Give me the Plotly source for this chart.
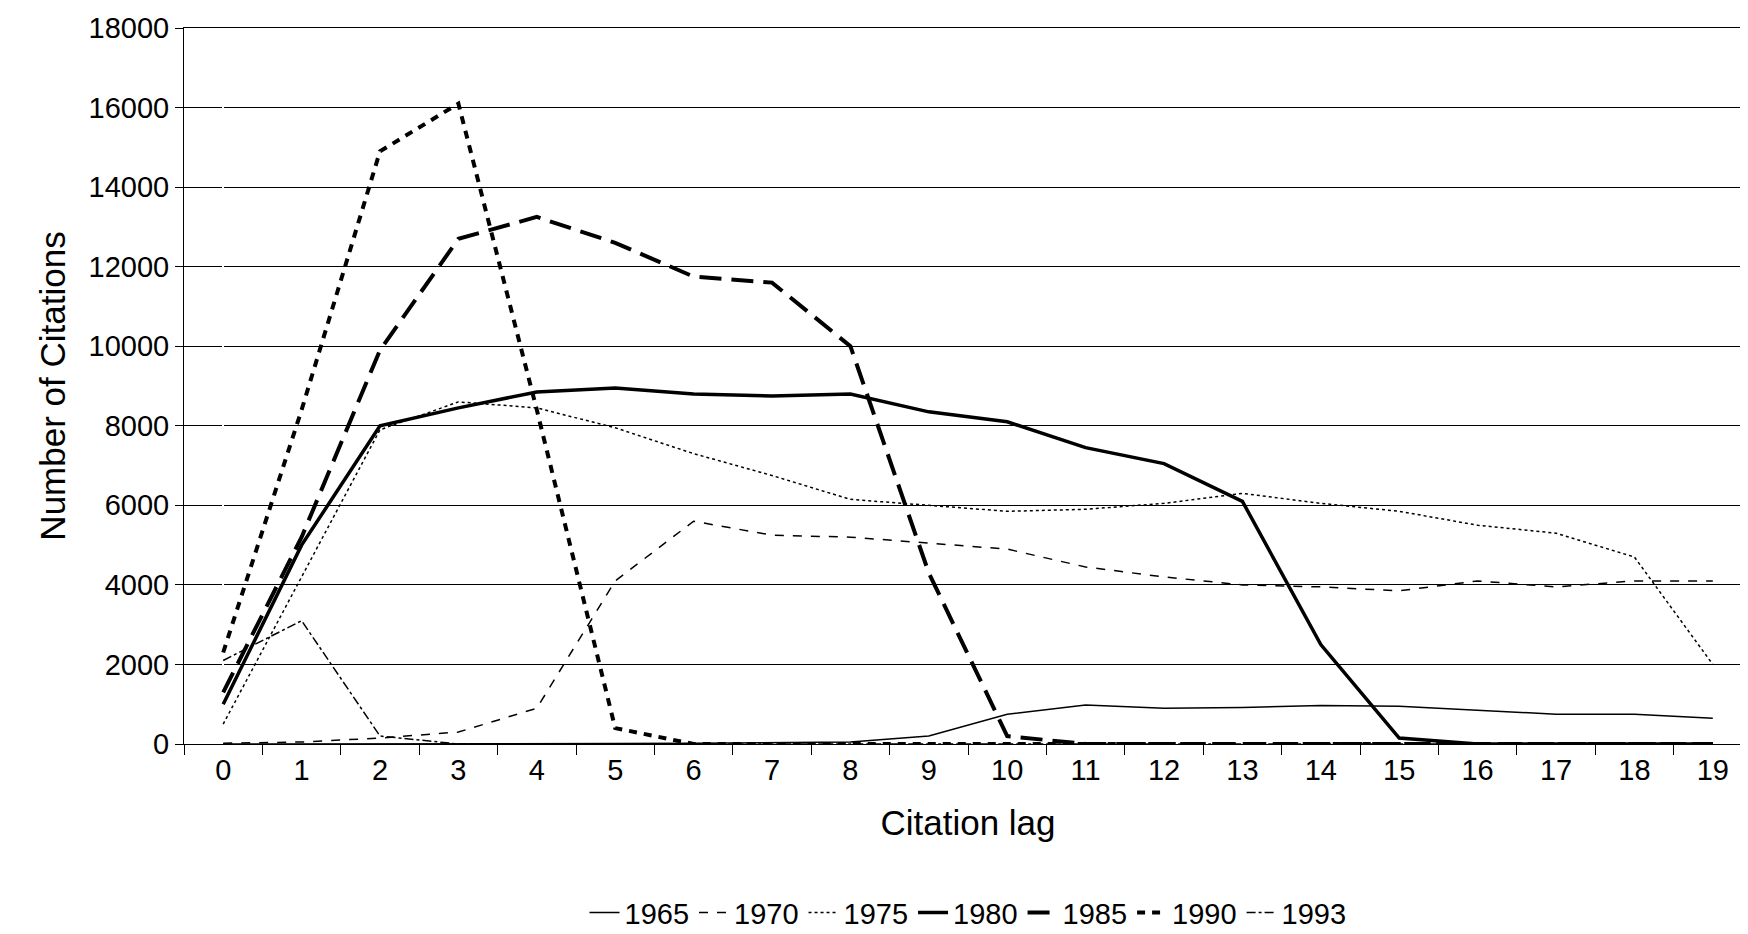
import plotly.graph_objects as go

lags = list(range(20))

c1965 = [0, 0, 0, 0, 0, 10, 20, 30, 50, 200, 750, 980, 900, 920, 970, 950, 850, 750, 750, 650]
c1970 = [20, 50, 150, 300, 900, 4100, 5600, 5250, 5200, 5050, 4900, 4450, 4200, 4000, 3950, 3850, 4100, 3950, 4100, 4100]
c1975 = [500, 4200, 7900, 8600, 8450, 7950, 7300, 6750, 6150, 6000, 5850, 5900, 6050, 6300, 6050, 5850, 5500, 5300, 4700, 2000]
c1980 = [1000, 5000, 8000, 8450, 8850, 8950, 8800, 8750, 8800, 8350, 8100, 7450, 7050, 6100, 2500, 150, 0, 0, 0, 0]
c1985 = [1300, 5200, 9900, 12700, 13250, 12600, 11750, 11600, 10000, 4300, 200, 0, 0, 0, 0, 0, 0, 0, 0, 0]
c1990 = [2300, 8400, 14900, 16100, 8400, 400, 0, 0, 0, 0, 0, 0, 0, 0, 0, 0, 0, 0, 0, 0]
c1993 = [2100, 3100, 200, 0, 0, 0, 0, 0, 0, 0, 0, 0, 0, 0, 0, 0, 0, 0, 0, 0]

series = [
    ("1965", c1965, 1.5, "solid"),
    ("1970", c1970, 1.5, "dash"),
    ("1975", c1975, 1.5, "dot"),
    ("1980", c1980, 3.5, "solid"),
    ("1985", c1985, 4, "22px,10px"),
    ("1990", c1990, 4, "8px,7px"),
    ("1993", c1993, 1.5, "dashdot"),
]

fig = go.Figure()
for name, vals, w, dash in series:
    fig.add_trace(go.Scatter(x=lags, y=vals, mode="lines", name=name,
                             line=dict(color="black", width=w, dash=dash)))

fig.update_layout(
    width=1748, height=934,
    margin=dict(l=176, r=4, t=20, b=168),
    plot_bgcolor="white", paper_bgcolor="white",
    font=dict(family="Liberation Sans, Arial", size=29, color="black"),
    showlegend=True,
    legend=dict(orientation="h", x=0.5, xanchor="center", y=-0.2, yanchor="top",
                font=dict(size=29)),
)
fig.update_xaxes(
    range=[-0.5, 19.5], tickmode="linear", tick0=0, dtick=1, ticks="",
    showgrid=False, showline=True, linecolor="black", mirror=True,
    minor=dict(tickmode="linear", tick0=-0.5, dtick=1, ticks="outside", ticklen=10,
               tickcolor="black", showgrid=False),
    title=dict(text="Citation lag", standoff=25),
)
fig.update_yaxes(
    range=[0, 18000], tickmode="linear", dtick=2000, tickformat="d",
    ticks="outside", ticklen=8,
    tickcolor="black", showgrid=True, gridcolor="black", gridwidth=1,
    showline=True, linecolor="black", mirror=True, zeroline=False,
    title=dict(text="Number of Citations", standoff=12),
)

fig.write_html("out.html")
